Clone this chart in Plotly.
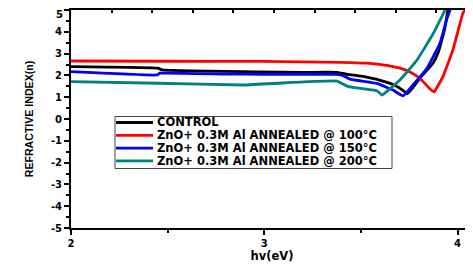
import plotly.graph_objects as go

# Data
control_x = [2.00, 2.45, 2.47, 2.98, 3.20, 3.376, 3.43, 3.50, 3.583, 3.666, 3.72, 3.738, 3.77, 3.805, 3.873, 3.90, 3.93, 3.95, 3.96]
control_y = [2.40, 2.33, 2.25, 2.16, 2.14, 2.14, 2.05, 1.97, 1.82, 1.58, 1.30, 1.15, 1.45, 1.88, 2.56, 3.05, 4.00, 5.00, 5.60]

t100_x = [2.00, 2.50, 3.00, 3.185, 3.40, 3.531, 3.614, 3.702, 3.754, 3.805, 3.847, 3.878, 3.90, 3.924, 3.976, 4.028, 4.038, 4.05]
t100_y = [2.66, 2.65, 2.64, 2.62, 2.60, 2.56, 2.48, 2.33, 2.16, 1.87, 1.47, 1.24, 1.55, 1.93, 3.17, 4.86, 5.00, 5.60]

t150_x = [2.00, 2.445, 2.46, 2.80, 3.00, 3.20, 3.376, 3.407, 3.443, 3.583, 3.666, 3.718, 3.769, 3.842, 3.909, 3.945, 3.961, 3.97]
t150_y = [2.17, 2.02, 2.10, 2.06, 2.05, 2.05, 2.05, 2.00, 1.83, 1.63, 1.33, 1.06, 1.56, 2.33, 3.47, 4.60, 5.00, 5.50]

t200_x = [2.00, 2.45, 2.89, 3.066, 3.376, 3.428, 3.459, 3.583, 3.609, 3.702, 3.790, 3.873, 3.935, 3.95]
t200_y = [1.71, 1.64, 1.56, 1.64, 1.74, 1.51, 1.45, 1.30, 1.10, 1.79, 2.70, 3.90, 5.00, 5.60]

series_names = ["CONTROL",
                "ZnO+ 0.3M Al ANNEALED @ 100°C",
                "ZnO+ 0.3M Al ANNEALED @ 150°C",
                "ZnO+ 0.3M Al ANNEALED @ 200°C"]
series_colors = ["#000000", "#FF0000", "#0000FF", "#008080"]

x_ticks = [2, 3, 4]
y_ticks = [5, 4, 3, 2, 1, 0, -1, -2, -3, -4, -5]

XR = [2.0, 4.08]
YR = [-5, 5]

# page body has an 8px default margin, so the figure is shifted by that much
OFF = 8
PAGE_W, PAGE_H = 473, 264
P_L, P_R, P_T, P_B = 71, 473, 10, 228       # plot area in page pixels
W, H = PAGE_W - OFF, PAGE_H - OFF
ML, MT = P_L - OFF, P_T - OFF
MR = W - (P_R - OFF)
MB = H - (P_B - OFF)
PW, PH = P_R - P_L, P_B - P_T


def px(xp):
    return (xp - P_L) / PW


def py(yp):
    return (P_B - yp) / PH


fig = go.Figure()
for xs, ys, nm, col in zip([control_x, t100_x, t150_x, t200_x],
                           [control_y, t100_y, t150_y, t200_y],
                           series_names, series_colors):
    fig.add_trace(go.Scatter(x=xs, y=ys, mode="lines", name=nm, showlegend=False,
                             line=dict(color=col, width=2.8, shape="spline", smoothing=0.3)))

# invisible traces for top / right / extra tick axes
for xa, ya in [("x2", "y"), ("x", "y2"), ("x", "y3")]:
    fig.add_trace(go.Scatter(x=[XR[0]], y=[0], xaxis=xa, yaxis=ya, mode="markers",
                             marker=dict(opacity=0), showlegend=False, hoverinfo="skip"))

# compact legend box (layout decoration)
shapes = [dict(type="rect", xref="paper", yref="paper",
               x0=px(115), x1=px(392), y0=py(168.5), y1=py(116.5),
               line=dict(color="#444", width=1), fillcolor="white", layer="above")]
annotations = []
row_y = [122.5, 135.3, 148.1, 160.9]
for nm, col, ry in zip(series_names, series_colors, row_y):
    shapes.append(dict(type="line", xref="paper", yref="paper",
                       x0=px(116), x1=px(153), y0=py(ry), y1=py(ry),
                       line=dict(color=col, width=2.8), layer="above"))
    annotations.append(dict(xref="paper", yref="paper", x=px(155), y=py(ry),
                            xanchor="left", yanchor="middle", showarrow=False,
                            text=nm, font=dict(family="DejaVu Sans", size=11.5, color="black", weight="bold")))

tickfont = dict(family="DejaVu Sans", size=10, color="black", weight="bold")
main_labels = ["" if v == y_ticks[0] else str(v) for v in y_ticks]

fig.update_layout(
    width=W, height=H,
    margin=dict(l=ML, r=MR, t=MT, b=MB, autoexpand=False),
    paper_bgcolor="white", plot_bgcolor="white",
    showlegend=False,
    shapes=shapes, annotations=annotations,
    xaxis=dict(range=XR, tickvals=x_ticks, ticktext=[str(v) for v in x_ticks], automargin=False,
               ticklabeloverflow="allow",
               showgrid=False, zeroline=False, showline=True, linecolor="black", linewidth=2,
               ticks="outside", ticklen=5, tickwidth=2, tickcolor="black",
               minor=dict(dtick=0.5, tick0=2, ticks="outside", ticklen=3, tickwidth=1.5, tickcolor="black"),
               tickfont=tickfont,
               title=dict(text="hv(eV)", standoff=2,
                          font=dict(family="DejaVu Sans", size=11.5, color="black", weight="bold"))),
    xaxis2=dict(overlaying="x", side="top", range=XR, anchor="y", automargin=False,
                tickvals=[2.21 + 0.21 * k for k in range(9)], showticklabels=False,
                showgrid=False, zeroline=False, showline=True, linecolor="black", linewidth=2,
                ticks="inside", ticklen=3, tickwidth=1.5, tickcolor="black"),
    yaxis=dict(range=YR, tickvals=y_ticks, ticktext=main_labels, automargin=False,
               ticklabeloverflow="allow",
               showgrid=False, zeroline=False, showline=True, linecolor="black", linewidth=2,
               ticks="outside", ticklen=5, tickwidth=2, tickcolor="black",
               minor=dict(dtick=0.5, tick0=0, ticks="outside", ticklen=3, tickwidth=1.5, tickcolor="black"),
               tickfont=tickfont,
               title=dict(text="REFRACTIVE INDEX(n)", standoff=15,
                          font=dict(family="Liberation Sans", size=10.6, color="black", weight="bold"))),
    yaxis2=dict(overlaying="y", side="right", range=YR, anchor="x", automargin=False,
                tickvals=[3, 1, -1, -3], showticklabels=False,
                showgrid=False, zeroline=False, showline=False,
                ticks="inside", ticklen=4, tickwidth=1.5, tickcolor="black"),
    # top label "5", nudged slightly down so it stays inside the page
    yaxis3=dict(overlaying="y", side="left", range=YR, anchor="x", automargin=False,
                tickvals=[y_ticks[0]], ticktext=[str(y_ticks[0])], ticklabelshift=4,
                ticklabeloverflow="allow",
                showgrid=False, zeroline=False, showline=False,
                ticks="outside", ticklen=5, tickwidth=2, tickcolor="rgba(0,0,0,0)",
                tickfont=tickfont),
)

fig.write_html("out.html")
